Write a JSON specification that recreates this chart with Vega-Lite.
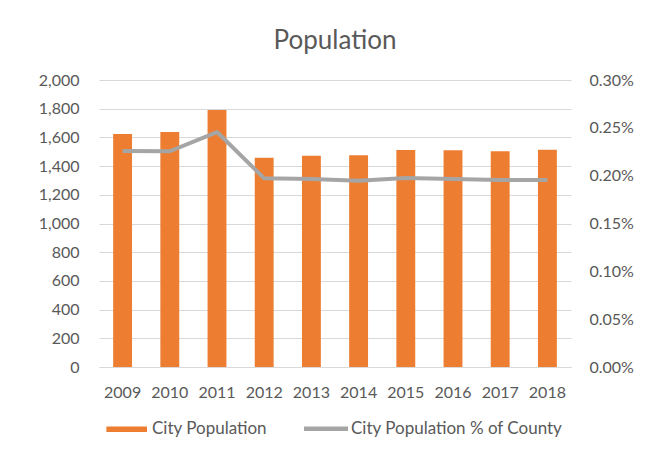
{
  "$schema": "https://vega.github.io/schema/vega-lite/v6.json",
  "width": 472,
  "height": 287,
  "autosize": {"type": "none"},
  "padding": {"left": 99, "top": 80, "right": 80, "bottom": 90},
  "background": "white",
  "title": {"text": "Population", "fontSize": 26, "font": "Lato", "fontWeight": "normal", "color": "#595959", "offset": 18},
  "config": {"view": {"stroke": null}, "font": "Lato", "legend": {"layout": {"bottom": {"anchor": "middle"}}}},
  "data": {"values": [
    {"year": "2009", "population": 1624, "pct": 0.002258},
    {"year": "2010", "population": 1638, "pct": 0.002255},
    {"year": "2011", "population": 1791, "pct": 0.002456},
    {"year": "2012", "population": 1459, "pct": 0.001972},
    {"year": "2013", "population": 1472, "pct": 0.001965},
    {"year": "2014", "population": 1475, "pct": 0.001947},
    {"year": "2015", "population": 1512, "pct": 0.001976},
    {"year": "2016", "population": 1510, "pct": 0.001965},
    {"year": "2017", "population": 1503, "pct": 0.001955},
    {"year": "2018", "population": 1514, "pct": 0.001955}
  ]},
  "encoding": {
    "x": {
      "field": "year", "type": "ordinal",
      "scale": {"paddingInner": 0.6, "paddingOuter": 0.3},
      "axis": {"title": null, "labelAngle": 0, "labelFont": "Lato", "labelFontSize": 16, "labelColor": "#595959", "labelPadding": 17, "ticks": false, "domainColor": "#D9D9D9", "domainWidth": 1, "grid": false}
    }
  },
  "layer": [
    {
      "mark": {"type": "bar"},
      "encoding": {
        "y": {
          "field": "population", "type": "quantitative",
          "scale": {"domain": [0, 2000], "nice": false},
          "axis": {"title": null, "values": [0, 200, 400, 600, 800, 1000, 1200, 1400, 1600, 1800, 2000], "format": ",.0f", "labelFont": "Lato", "labelFontSize": 16, "labelColor": "#595959", "labelPadding": 20, "ticks": false, "domain": false, "grid": true, "gridColor": "#D9D9D9", "gridWidth": 1}
        },
        "color": {
          "datum": "City Population",
          "scale": {"domain": ["City Population", "City Population % of County"], "range": ["#ED7D31", "#A5A5A5"]},
          "legend": {
            "title": null, "orient": "bottom", "direction": "horizontal", "offset": 20,
            "labelFont": "Lato", "labelFontSize": 17, "labelColor": "#595959", "labelOffset": 4, "labelLimit": 400,
            "symbolSize": 1600, "symbolStrokeWidth": 0, "columnPadding": 28,
            "encode": {
              "symbols": {"update": {
                "x": {"value": 20},
                "size": {"value": 1600},
                "shape": {"signal": "datum.value === 'City Population' ? 'M-1.03,-0.14H1V0.14H-1.03Z' : 'M-1.1,0H1.1'"},
                "fill": {"signal": "datum.value === 'City Population' ? '#ED7D31' : 'transparent'"},
                "stroke": {"signal": "datum.value === 'City Population' ? 'transparent' : '#A5A5A5'"},
                "strokeWidth": {"signal": "datum.value === 'City Population' ? 0 : 4.5"},
                "opacity": {"value": 1},
                "fillOpacity": {"value": 1},
                "strokeOpacity": {"value": 1}
              }},
              "labels": {"update": {"x": {"value": 45}}}
            }
          }
        }
      }
    },
    {
      "mark": {"type": "line", "strokeWidth": 4, "strokeJoin": "round", "strokeCap": "butt"},
      "encoding": {
        "y": {
          "field": "pct", "type": "quantitative",
          "scale": {"domain": [0, 0.003], "nice": false},
          "axis": {"title": null, "orient": "right", "values": [0, 0.0005, 0.001, 0.0015, 0.002, 0.0025, 0.003], "format": ".2%", "labelFont": "Lato", "labelFontSize": 16, "labelColor": "#595959", "labelPadding": 18, "ticks": false, "domain": false, "grid": false}
        },
        "color": {"datum": "City Population % of County"}
      }
    }
  ],
  "resolve": {"scale": {"y": "independent"}}
}
